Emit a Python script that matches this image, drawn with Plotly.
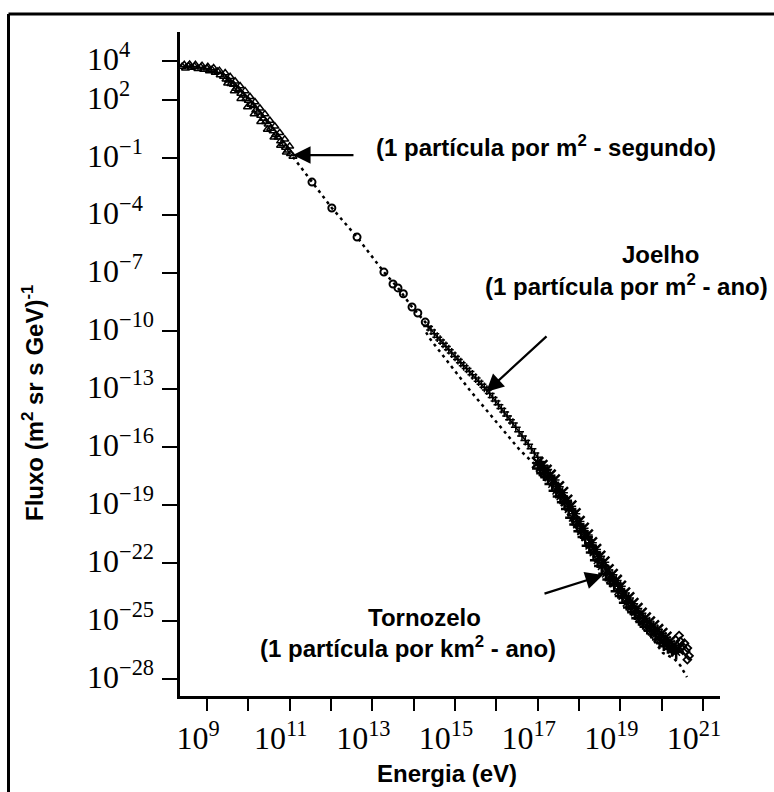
import numpy as np
import plotly.graph_objects as go

# ---------------- data (log10 units) ----------------
# low-energy measurements (open triangles)
low_logE = [8.40, 8.48, 8.55, 8.62, 8.70, 8.78, 8.85, 8.92, 9.00, 9.06, 9.12, 9.20, 9.26, 9.32,
            9.40, 9.46, 9.52, 9.58, 9.64, 9.70, 9.76, 9.82, 9.88, 9.94, 10.00, 10.06, 10.12,
            10.18, 10.24, 10.30, 10.36, 10.42, 10.48, 10.54, 10.60, 10.66, 10.72, 10.78, 10.84,
            10.90, 10.96, 11.02, 11.08,
            8.45, 8.58, 8.72, 8.88, 9.02, 9.16, 9.30, 9.44, 9.56, 9.68, 9.80, 9.92, 10.04, 10.16,
            10.28, 10.40, 10.52, 10.64, 10.76, 10.88, 11.00,
            9.50, 9.66, 9.82, 9.98, 10.14, 10.30, 10.46, 10.62, 10.78, 10.92]
low_logF = [3.72, 3.62, 3.74, 3.66, 3.72, 3.60, 3.68, 3.56, 3.62, 3.48, 3.55, 3.40, 3.46, 3.28,
            3.20, 3.05, 3.00, 2.82, 2.78, 2.58, 2.52, 2.32, 2.22, 2.05, 1.95, 1.75, 1.68,
            1.45, 1.35, 1.18, 1.02, 0.85, 0.72, 0.50, 0.38, 0.18, 0.05, -0.15, -0.30,
            -0.48, -0.62, -0.80, -0.95,
            3.80, 3.82, 3.80, 3.76, 3.70, 3.64, 3.50, 3.38, 3.18, 2.95, 2.70, 2.45, 2.15, 1.88,
            1.55, 1.25, 0.92, 0.62, 0.28, -0.05, -0.42,
            2.85, 2.45, 2.05, 1.62, 1.25, 0.85, 0.45, 0.05, -0.38, -0.72]

# direct measurements: dotted line with open circles
mid_line_logE = [11.08, 11.54, 12.02, 12.63, 13.28, 13.62, 13.96, 14.28, 14.40]
mid_line_logF = [-0.97, -2.27, -3.61, -5.12, -6.93, -7.75, -8.74, -9.52, -9.85]
mid_pts_logE = [11.54, 12.02, 12.63, 13.28, 13.50, 13.62, 13.75, 13.96, 14.10, 14.28]
mid_pts_logF = [-2.27, -3.61, -5.12, -6.93, -7.55, -7.75, -8.05, -8.74, -9.05, -9.52]

# upper branch around the knee (crosses)
knee_logE = [14.35, 14.42, 14.50, 14.57, 14.64, 14.71, 14.78, 14.85, 14.92, 15.00, 15.07,
             15.14, 15.21, 15.28, 15.35, 15.42, 15.50, 15.57, 15.64, 15.71, 15.77, 15.84,
             15.91, 15.98, 16.05, 16.12, 16.19, 16.26, 16.33, 16.40, 16.47, 16.55, 16.62,
             16.70, 16.77, 16.85, 16.92, 17.00, 17.08, 17.15, 17.23]
knee_logF = [-9.75, -9.93, -10.12, -10.30, -10.45, -10.62, -10.78, -10.95, -11.12, -11.30,
             -11.46, -11.62, -11.78, -11.92, -12.08, -12.25, -12.42, -12.58, -12.74, -12.90,
             -13.04, -13.22, -13.42, -13.60, -13.80, -14.00, -14.18, -14.38, -14.58, -14.75,
             -14.97, -15.20, -15.42, -15.65, -15.85, -16.08, -16.30, -16.52, -16.75, -16.95,
             -17.15]

# lower dotted reference line
ref_logE = [14.30, 14.40, 15.36, 16.57, 17.23, 17.80, 18.40, 19.00, 19.60, 20.03, 20.30, 20.45, 20.61]
ref_logF = [-10.05, -10.40, -13.05, -16.15, -17.50, -19.75, -21.80, -23.70, -25.40, -26.65,
            -26.95, -27.30, -27.90]

# dense high-energy band (crosses / stars)
band_logE = [17.00, 17.05, 17.10, 17.15, 17.20, 17.25, 17.30, 17.35, 17.40, 17.45, 17.50, 17.55,
             17.60, 17.65, 17.70, 17.75, 17.80, 17.85, 17.90, 17.95, 18.00, 18.05, 18.10, 18.15,
             18.20, 18.25, 18.30, 18.35, 18.40, 18.45, 18.50, 18.55, 18.60, 18.65, 18.70, 18.75,
             18.80, 18.85, 18.90, 18.95, 19.00, 19.05, 19.10, 19.15, 19.20, 19.25, 19.30, 19.35,
             19.40, 19.45, 19.50, 19.55, 19.60, 19.65, 19.70, 19.75, 19.80, 19.85, 19.90, 19.95,
             20.00, 20.05, 20.10, 20.15, 20.20, 20.25, 20.30, 20.35, 20.40]
band_logF = [-16.80, -17.10, -16.95, -17.35, -17.20, -17.55, -17.45, -17.90, -17.70, -18.25,
             -18.05, -18.55, -18.35, -18.85, -18.75, -19.20, -19.05, -19.65, -19.45, -20.00,
             -19.85, -20.35, -20.20, -20.65, -20.55, -21.10, -20.95, -21.45, -21.30, -21.85,
             -21.65, -22.15, -21.95, -22.55, -22.35, -22.85, -22.60, -23.05, -22.90, -23.45,
             -23.20, -23.70, -23.55, -24.05, -23.80, -24.30, -24.10, -24.55, -24.35, -24.85,
             -24.60, -25.05, -24.85, -25.30, -25.05, -25.50, -25.25, -25.70, -25.45, -25.95,
             -25.65, -26.15, -25.85, -26.30, -26.05, -26.45, -26.25, -26.60, -26.45]

# highest-energy cluster
top_logE = [20.42, 20.45, 20.50, 20.55, 20.58, 20.62, 20.66, 20.62]
top_logF = [-25.75, -26.05, -26.30, -26.15, -26.55, -26.40, -26.80, -27.00]

# axis ticks
y_tick_exp = [4, 2, -1, -4, -7, -10, -13, -16, -19, -22, -25, -28]
x_label_exp = [9, 11, 13, 15, 17, 19, 21]
x_minor_exp = [10, 12, 14, 16, 18, 20]

# arrows: (head logE, head logF, tail dx px, tail dy px)
arrow_heads = [(11.08, -0.87, 62, 0), (15.75, -13.14, 62, -57), (18.58, -22.62, -60, 19)]


def p10(a):
    return (10.0 ** np.array(a, dtype=float)).tolist()


def sup(e):
    s = str(e).replace("-", "\u2212")
    return f"10<sup>{s}</sup>"


X0, X1 = 8.347, 21.41
Y0, Y1 = -28.88, 5.5
L, T, W, H = 180, 32, 540, 664


def px(xp):
    return (xp - L) / W


def py(yp):
    return (T + H - yp) / H


fig = go.Figure()

fig.add_trace(go.Scatter(x=p10(low_logE), y=p10(low_logF), mode="markers",
                         marker=dict(symbol="triangle-up-open", size=7, color="black",
                                     line=dict(width=1.5, color="black")),
                         showlegend=False))
fig.add_trace(go.Scatter(x=p10(mid_line_logE), y=p10(mid_line_logF), mode="lines",
                         line=dict(color="black", width=2.5, dash="3px,4px"), showlegend=False))
fig.add_trace(go.Scatter(x=p10(mid_pts_logE), y=p10(mid_pts_logF), mode="markers",
                         marker=dict(symbol="circle-open", size=7, color="black",
                                     line=dict(width=2, color="black")),
                         showlegend=False))
fig.add_trace(go.Scatter(x=p10(ref_logE), y=p10(ref_logF), mode="lines",
                         line=dict(color="black", width=2.5, dash="3px,4px"), showlegend=False))
fig.add_trace(go.Scatter(x=p10(knee_logE), y=p10(knee_logF), mode="lines+markers",
                         line=dict(color="black", width=1.5),
                         marker=dict(symbol="cross-thin", size=7, color="black",
                                     line=dict(width=1.5, color="black")),
                         showlegend=False))
band_symbols = ["x-thin" if i % 2 == 0 else "cross-thin" for i in range(len(band_logE))]
fig.add_trace(go.Scatter(x=p10(band_logE), y=p10(band_logF), mode="markers",
                         marker=dict(symbol=band_symbols, size=11, color="black",
                                     line=dict(width=2.5, color="black")),
                         showlegend=False))
fig.add_trace(go.Scatter(x=p10(band_logE), y=p10(band_logF), mode="markers",
                         marker=dict(symbol="asterisk-open", size=9, color="black",
                                     line=dict(width=1.5, color="black")),
                         showlegend=False))
fig.add_trace(go.Scatter(x=p10(top_logE), y=p10(top_logF), mode="markers",
                         marker=dict(symbol="diamond-open", size=6, color="black",
                                     line=dict(width=1.8, color="black")),
                         showlegend=False))

annotations = []
# y tick labels, left aligned as in the reference
for e in y_tick_exp:
    annotations.append(dict(x=px(85), xref="paper", y=e, yref="y", xanchor="left",
                            yanchor="middle", yshift=4, showarrow=False, text=sup(e),
                            font=dict(family="Liberation Serif", size=32, color="black")))

txt_font = dict(family="Liberation Sans", size=24, color="black")
texts = [
    ("<b>(1 partícula por m<sup>2</sup> - segundo)</b>", 546, 146),
    ("<b>Joelho</b>", 660, 255),
    ("<b>(1 partícula por m<sup>2</sup> - ano)</b>", 626, 285),
    ("<b>Tornozelo</b>", 424, 617),
    ("<b>(1 partícula por km<sup>2</sup> - ano)</b>", 408, 647),
    ("<b>Energia (eV)</b>", 447, 774),
]
for t, xp, yp in texts:
    annotations.append(dict(x=px(xp), y=py(yp), xref="paper", yref="paper", text=t,
                            showarrow=False, xanchor="center", yanchor="middle", font=txt_font))
annotations.append(dict(x=px(33), y=py(403), xref="paper", yref="paper",
                        text="<b>Fluxo (m<sup>2</sup> sr s GeV)<sup>-1</sup></b>", textangle=-90,
                        showarrow=False, xanchor="center", yanchor="middle", font=txt_font))

for hx, hy, dx, dy in arrow_heads:
    annotations.append(dict(x=hx, y=hy, xref="x", yref="y", ax=dx, ay=dy, text="",
                            showarrow=True, arrowhead=2, arrowsize=1.6, arrowwidth=2.2,
                            arrowcolor="black", standoff=0, startstandoff=0))

shapes = [
    dict(type="line", xref="paper", yref="paper", x0=px(8.5), x1=px(780), y0=py(14), y1=py(14),
         line=dict(color="black", width=3)),
    dict(type="line", xref="paper", yref="paper", x0=px(8.5), x1=px(8.5), y0=py(14), y1=py(800),
         line=dict(color="black", width=3)),
]

fig.update_layout(
    width=774, height=792,
    margin=dict(l=L, r=774 - L - W, t=T, b=792 - T - H),
    paper_bgcolor="white", plot_bgcolor="white",
    showlegend=False,
    annotations=annotations, shapes=shapes,
    xaxis=dict(type="log", range=[X0, X1], showgrid=False, zeroline=False,
               showline=True, linecolor="black", linewidth=3, mirror=False,
               ticks="outside", ticklen=12, tickwidth=2, tickcolor="black",
               tickmode="array", tickvals=p10(x_label_exp),
               ticktext=[sup(e) for e in x_label_exp],
               ticklabelshift=-9,
               minor=dict(tickmode="array", tickvals=p10(x_minor_exp), ticks="outside",
                          ticklen=12, tickwidth=2, tickcolor="black", showgrid=False),
               tickfont=dict(family="Liberation Serif", size=32, color="black")),
    yaxis=dict(type="log", range=[Y0, Y1], showgrid=False, zeroline=False,
               showline=True, linecolor="black", linewidth=3, mirror=False,
               ticks="outside", ticklen=15, tickwidth=2, tickcolor="black",
               tickmode="array", tickvals=p10(y_tick_exp), showticklabels=False),
)

fig.write_html("out.html", config={"displayModeBar": False},
               post_script="document.body.style.margin='0px';document.body.style.overflow='hidden';")
